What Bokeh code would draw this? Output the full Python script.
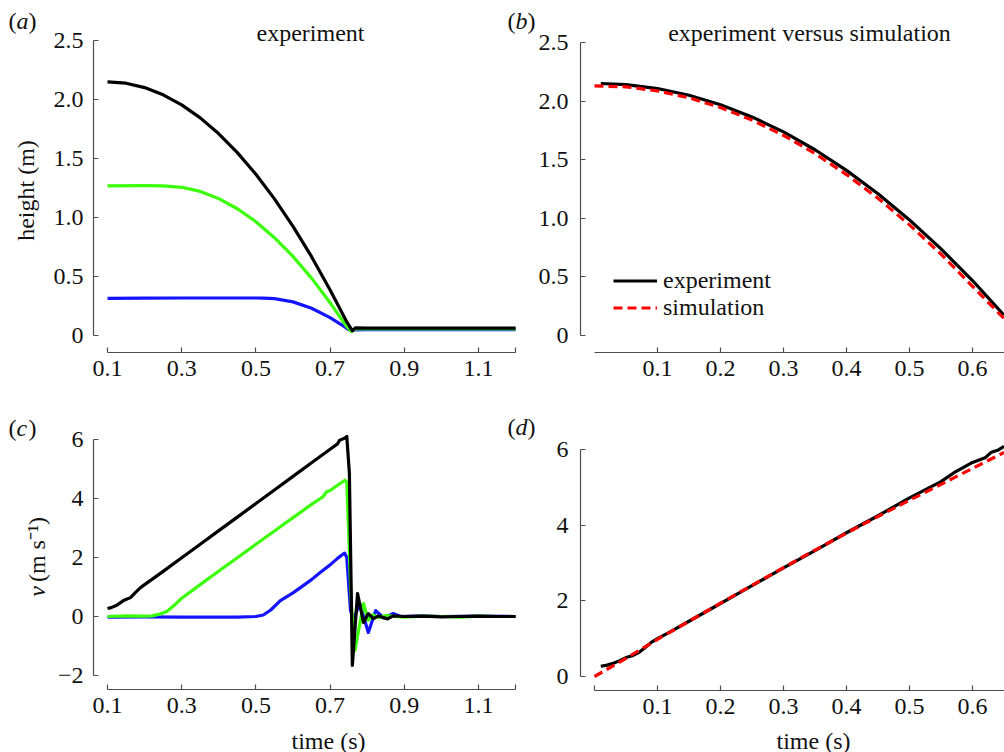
import math
from bokeh.plotting import figure
from bokeh.layouts import column, row
from bokeh.models import Range1d, FixedTicker, Label, Legend, LegendItem
from bokeh.embed import file_html
from bokeh.resources import INLINE

FONT = "Liberation Serif"
FS = "24px"
BLACK = "#000000"
GREEN = "#3cff0a"
BLUE = "#1414ff"
RED = "#ff0000"
AXIS = "#4d4d4d"
TXT = "#111111"

# ---------------- data: panel (a) height vs time ----------------
t_h_black = [0.10, 0.15, 0.20, 0.25, 0.30, 0.35, 0.40, 0.45, 0.50, 0.55, 0.60, 0.65,
             0.70, 0.73, 0.745, 0.760, 0.768, 0.80, 0.90, 1.00, 1.10, 1.20]
h_black = [2.150, 2.138, 2.101, 2.040, 1.954, 1.844, 1.709, 1.550, 1.366, 1.158, 0.925, 0.668,
           0.386, 0.205, 0.115, 0.040, 0.065, 0.062, 0.062, 0.062, 0.062, 0.062]
t_h_green = [0.10, 0.20, 0.25, 0.30, 0.35, 0.40, 0.45, 0.50, 0.55, 0.60, 0.65, 0.70,
             0.73, 0.745, 0.757, 0.768, 0.80, 0.90, 1.00, 1.10, 1.20]
h_green = [1.268, 1.270, 1.268, 1.256, 1.221, 1.160, 1.074, 0.964, 0.829, 0.670, 0.486, 0.278,
           0.141, 0.075, 0.035, 0.055, 0.056, 0.056, 0.056, 0.056, 0.056]
t_h_blue = [0.10, 0.20, 0.30, 0.40, 0.50, 0.52, 0.55, 0.60, 0.65, 0.70, 0.73, 0.75,
            0.76, 0.80, 0.90, 1.00, 1.10, 1.20]
h_blue = [0.315, 0.316, 0.318, 0.318, 0.318, 0.317, 0.312, 0.285, 0.231, 0.152, 0.093, 0.050,
          0.048, 0.050, 0.050, 0.050, 0.050, 0.050]

# ---------------- data: panel (b) experiment vs simulation (height) ----------------
t_b_exp = [0.01, 0.05, 0.10, 0.15, 0.20, 0.25, 0.30, 0.35, 0.40, 0.45, 0.50, 0.55, 0.60, 0.65]
h_b_exp = [2.150, 2.140, 2.107, 2.050, 1.969, 1.865, 1.737, 1.585, 1.409, 1.209, 0.986, 0.739, 0.469, 0.174]
t_b_sim = [0.00, 0.05, 0.10, 0.15, 0.20, 0.25, 0.30, 0.35, 0.40, 0.45, 0.50, 0.55, 0.60, 0.65]
h_b_sim = [2.130, 2.122, 2.087, 2.028, 1.945, 1.838, 1.707, 1.552, 1.373, 1.171, 0.944, 0.694, 0.420, 0.145]

# ---------------- data: panel (c) velocity vs time ----------------
t_v_black = [0.10, 0.11, 0.125, 0.143, 0.162, 0.175, 0.189, 0.20, 0.25, 0.30, 0.35, 0.40, 0.45,
             0.50, 0.55, 0.60, 0.65, 0.70, 0.72, 0.725, 0.74, 0.745, 0.752, 0.760, 0.774, 0.790,
             0.803, 0.817, 0.830, 0.855, 0.870, 0.90, 0.95, 1.00, 1.05, 1.10, 1.15, 1.20]
v_black = [0.27, 0.30, 0.38, 0.54, 0.64, 0.81, 0.98, 1.08, 1.53, 1.99, 2.45, 2.91, 3.37,
           3.83, 4.29, 4.75, 5.21, 5.67, 5.85, 5.97, 6.05, 6.10, 4.85, -1.66, 0.78, -0.20,
           0.10, -0.07, 0.02, -0.08, 0.02, 0.00, 0.01, -0.01, 0.00, 0.01, 0.00, 0.00]
t_v_green = [0.10, 0.15, 0.20, 0.22, 0.24, 0.26, 0.28, 0.30, 0.35, 0.40, 0.45, 0.50, 0.55, 0.60,
             0.65, 0.68, 0.69, 0.70, 0.72, 0.74, 0.745, 0.757, 0.767, 0.790, 0.803, 0.815,
             0.830, 0.850, 0.90, 0.95, 1.00, 1.05, 1.10, 1.15, 1.20]
v_green = [0.00, 0.02, 0.01, 0.02, 0.08, 0.17, 0.38, 0.62, 1.08, 1.54, 1.99, 2.45, 2.90, 3.35,
           3.80, 4.05, 4.22, 4.27, 4.45, 4.62, 4.55, 0.50, -1.15, 0.44, -0.13, 0.06,
           -0.04, 0.03, -0.02, 0.01, 0.00, -0.02, 0.01, 0.00, 0.00]
t_v_blue = [0.10, 0.20, 0.30, 0.40, 0.45, 0.50, 0.52, 0.54, 0.566, 0.60, 0.62, 0.65, 0.674, 0.70,
            0.72, 0.739, 0.745, 0.755, 0.763, 0.780, 0.803, 0.823, 0.845, 0.870, 0.890,
            0.95, 1.00, 1.10, 1.20]
v_blue = [-0.02, -0.01, -0.02, -0.02, -0.02, 0.00, 0.05, 0.22, 0.54, 0.80, 0.98, 1.25, 1.50, 1.75,
          1.97, 2.15, 2.00, 0.20, -0.10, 0.44, -0.54, 0.20, -0.05, 0.10, 0.00,
          0.02, 0.00, 0.01, 0.00]

# ---------------- data: panel (d) experiment vs simulation (velocity) ----------------
t_d_exp = [0.01, 0.02, 0.03, 0.04, 0.05, 0.06, 0.07, 0.08, 0.09, 0.10, 0.12, 0.15, 0.20, 0.22,
           0.25, 0.30, 0.35, 0.40, 0.45, 0.50, 0.55, 0.57, 0.60, 0.62, 0.63, 0.64, 0.65]
v_d_exp = [0.27, 0.30, 0.35, 0.42, 0.50, 0.55, 0.63, 0.76, 0.90, 1.00, 1.18, 1.46, 1.93, 2.12,
           2.40, 2.87, 3.33, 3.80, 4.25, 4.72, 5.15, 5.38, 5.66, 5.78, 5.93, 5.98, 6.08]
t_d_sim = [0.00, 0.05, 0.10, 0.15, 0.20, 0.25, 0.30, 0.35, 0.40, 0.45, 0.50, 0.55, 0.60, 0.65]
v_d_sim = [0.00, 0.48, 0.98, 1.46, 1.94, 2.41, 2.88, 3.34, 3.79, 4.23, 4.66, 5.08, 5.50, 5.92]

# ---------------- axis ticks / labels ----------------
x_ticks_left = [0.1, 0.3, 0.5, 0.7, 0.9, 1.1, 1.2]
x_labels_left = ["0.1", "0.3", "0.5", "0.7", "0.9", "1.1", ""]
x_ticks_right = [0.1, 0.2, 0.3, 0.4, 0.5, 0.6]
x_labels_right = ["0.1", "0.2", "0.3", "0.4", "0.5", "0.6"]
x_ticks_d = [0.0, 0.1, 0.2, 0.3, 0.4, 0.5, 0.6]
x_labels_d = ["", "0.1", "0.2", "0.3", "0.4", "0.5", "0.6"]
y_ticks_h = [0.0, 0.5, 1.0, 1.5, 2.0, 2.5]
y_labels_h = ["0", "0.5", "1.0", "1.5", "2.0", "2.5"]
y_ticks_v = [-2, 0, 2, 4, 6]
y_labels_v = ["\u22122", "0", "2", "4", "6"]
y_ticks_d = [0, 2, 4, 6]
y_labels_d = ["0", "2", "4", "6"]

# ---------------- layout: each figure's frame fills the whole figure ----------------
# box = (left, right, top, bottom) page px; x/y anchors: (pixel, value, px per unit); axis pixel positions
SPLIT_X = 536
SPLIT_Y = 390
PANELS = {
    "a": dict(box=(0, SPLIT_X, 0, SPLIT_Y), xa=(107, 0.1, 371.0), ya=(335, 0.0, 118.0), ax_px=93, ax_py=352),
    "b": dict(box=(SPLIT_X, 1004, 0, SPLIT_Y), xa=(594, 0.0, 630.0), ya=(335, 0.0, 117.2), ax_px=580, ax_py=352),
    "c": dict(box=(0, SPLIT_X, SPLIT_Y, 752), xa=(107, 0.1, 371.0), ya=(616, 0.0, 29.5), ax_px=93, ax_py=689),
    "d": dict(box=(SPLIT_X, 1004, SPLIT_Y, 752), xa=(594, 0.0, 630.0), ya=(676, 0.0, 37.83), ax_px=580, ax_py=690),
}


def dx(s, px):
    a, v, k = s["xa"]
    return v + (px - a) / k


def dy(s, py):
    a, v, k = s["ya"]
    return v + (a - py) / k


def make_fig(key):
    s = PANELS[key]
    l, r, t, b = s["box"]
    p = figure(width=r - l, height=b - t, output_backend="svg", toolbar_location=None,
               x_range=Range1d(dx(s, l), dx(s, r)), y_range=Range1d(dy(s, b), dy(s, t)),
               min_border_left=0, min_border_right=0, min_border_top=0,
               min_border_bottom=0, tools="")
    p.outline_line_color = None
    p.grid.visible = False
    p.background_fill_color = "white"
    p.border_fill_color = "white"
    p.xaxis.fixed_location = dy(s, s["ax_py"])
    p.yaxis.fixed_location = dx(s, s["ax_px"])
    return p


def style_axes(p, xt, xl, xb, yt, yl, yb, ystand):
    p.xaxis.ticker = FixedTicker(ticks=xt)
    p.xaxis.major_label_overrides = {t: l for t, l in zip(xt, xl)}
    p.xaxis.bounds = xb
    p.yaxis.ticker = FixedTicker(ticks=yt)
    p.yaxis.major_label_overrides = {t: l for t, l in zip(yt, yl)}
    p.yaxis.bounds = yb
    for ax in (p.xaxis[0], p.yaxis[0]):
        ax.major_tick_in = 5
        ax.major_tick_out = 0
        ax.minor_tick_line_color = None
        ax.axis_line_color = AXIS
        ax.axis_line_width = 1.2
        ax.major_tick_line_color = AXIS
        ax.major_tick_line_width = 1.2
        ax.major_label_text_font = FONT
        ax.major_label_text_font_size = FS
        ax.major_label_text_color = TXT
    p.xaxis.major_label_standoff = 8
    p.yaxis.major_label_standoff = ystand


def text(p, key, px, py, txt, italic=False, align="left", size=FS, angle=0.0):
    s = PANELS[key]
    p.add_layout(Label(x=dx(s, px), y=dy(s, py), text=txt, text_font=FONT, text_font_size=size,
                       text_font_style="italic" if italic else "normal", angle=angle,
                       text_align=align, text_baseline="middle", text_color=TXT))


def panel_tag(p, key, px, py, letter):
    text(p, key, px, py, "(")
    text(p, key, px + 8, py, letter, italic=True)
    text(p, key, px + 20, py, ")")


LW = 3.2

# ---- (a)
pa = make_fig("a")
pa.line(t_h_blue, h_blue, line_color=BLUE, line_width=LW, line_join="round")
pa.line(t_h_green, h_green, line_color=GREEN, line_width=LW, line_join="round")
pa.line(t_h_black, h_black, line_color=BLACK, line_width=LW, line_join="round")
style_axes(pa, x_ticks_left, x_labels_left, (0.1, 1.2), y_ticks_h, y_labels_h, (0, 2.5), 10)
panel_tag(pa, "a", 8, 20, "a")
panel_tag(pa, "a", 507, 20, "b")
text(pa, "a", 310, 32, "experiment", align="center")
text(pa, "a", 25, 190, "height (m)", align="center", angle=math.pi / 2)

# ---- (b)
pb = make_fig("b")
r_exp = pb.line(t_b_exp, h_b_exp, line_color=BLACK, line_width=LW, line_join="round")
r_sim = pb.line(t_b_sim, h_b_sim, line_color=RED, line_width=LW, line_dash="9 5")
style_axes(pb, x_ticks_right, x_labels_right, (0, 0.65), y_ticks_h, y_labels_h, (0, 2.5), 12)
text(pb, "b", 809, 32, "experiment versus simulation", align="center")
legend = Legend(items=[LegendItem(label="experiment", renderers=[r_exp]),
                       LegendItem(label="simulation", renderers=[r_sim])],
                location=(613 - SPLIT_X, SPLIT_Y - 321), border_line_color=None,
                background_fill_alpha=0, padding=0, margin=0, spacing=0, glyph_width=44,
                glyph_height=25, label_height=25, label_standoff=6, label_text_font=FONT,
                label_text_font_size=FS, label_text_color=TXT)
pb.add_layout(legend)

# ---- (c)
pc = make_fig("c")
pc.line(t_v_blue, v_blue, line_color=BLUE, line_width=LW, line_join="round")
pc.line(t_v_green, v_green, line_color=GREEN, line_width=LW, line_join="round")
pc.line(t_v_black, v_black, line_color=BLACK, line_width=LW, line_join="round")
style_axes(pc, x_ticks_left, x_labels_left, (0.1, 1.2), y_ticks_v, y_labels_v, (-2, 6), 10)
panel_tag(pc, "c", 8, 427, "c")
panel_tag(pc, "c", 507, 426, "d")
text(pc, "c", 36, 591, "v", italic=True, align="center", angle=math.pi / 2)
text(pc, "c", 36, 549, "(m s\u207b\u00b9)", align="center", angle=math.pi / 2)
text(pc, "c", 328, 740, "time (s)", align="center")

# ---- (d)
pd_ = make_fig("d")
pd_.line(t_d_exp, v_d_exp, line_color=BLACK, line_width=LW, line_join="round")
pd_.line(t_d_sim, v_d_sim, line_color=RED, line_width=LW, line_dash="9 5")
style_axes(pd_, x_ticks_d, x_labels_d, (0, 0.65), y_ticks_d, y_labels_d, (0, 6), 12)
text(pd_, "d", 813, 740, "time (s)", align="center")

layout = column(row(pa, pb), row(pc, pd_))
open("out.html", "w").write(file_html(layout, INLINE))
